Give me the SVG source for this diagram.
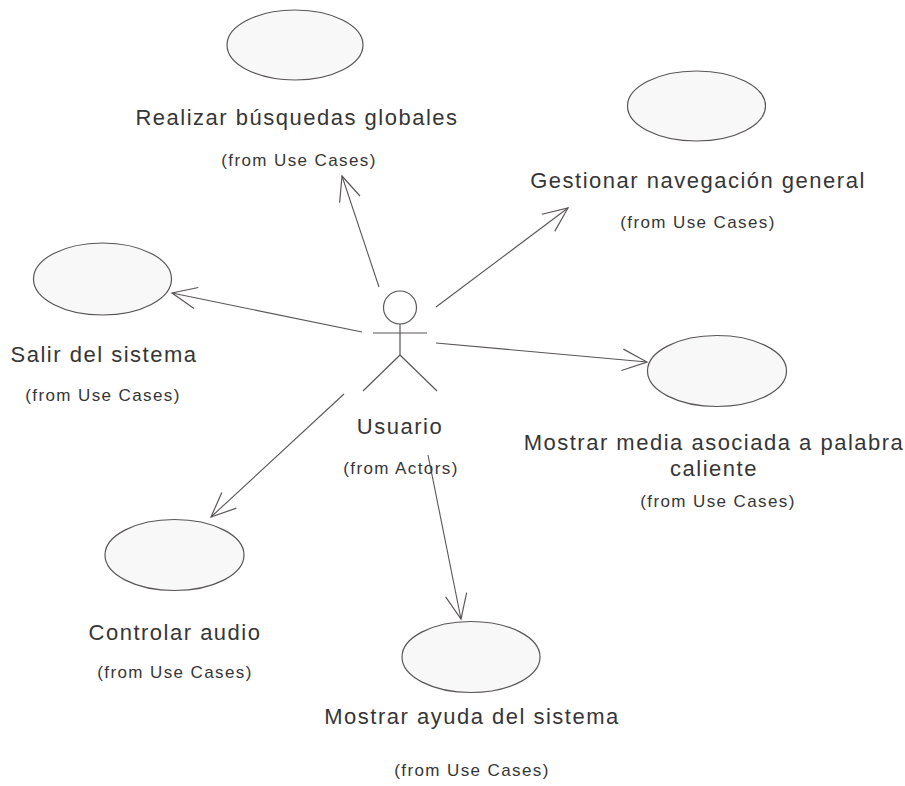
<svg xmlns="http://www.w3.org/2000/svg" width="905" height="786" viewBox="0 0 905 786">
  <style>
    .uc { fill: #f8f8f8; stroke: #5a5558; stroke-width: 1.2; }
    .actor { fill: none; stroke: #5a5558; stroke-width: 1.2; }
    .assoc { fill: none; stroke: #5a5558; stroke-width: 1.1; marker-end: url(#open); }
    .name { font-family: "Liberation Sans", Arial, sans-serif; font-size: 22px; letter-spacing: 1.5px; fill: #363636; text-anchor: middle; }
    .from { font-family: "Liberation Sans", Arial, sans-serif; font-size: 17px; letter-spacing: 1.4px; fill: #363636; text-anchor: middle; }
  </style>
  <defs>
    <marker id="open" markerUnits="userSpaceOnUse" markerWidth="30" markerHeight="30" viewBox="-26 -13 28 26" refX="0" refY="0" orient="auto">
      <path d="M -23,-10 L 0,0 L -23,10" fill="none" stroke="#5a5558" stroke-width="1.1"/>
    </marker>
  </defs>
  <rect width="905" height="786" fill="#ffffff"/>

  <!-- associations from the actor to each use case -->
  <g id="connectors">
    <line class="assoc" x1="379" y1="287" x2="342" y2="176"/>
    <line class="assoc" x1="436" y1="307" x2="568" y2="208"/>
    <line class="assoc" x1="362" y1="332" x2="172" y2="293"/>
    <line class="assoc" x1="436" y1="343" x2="647" y2="362"/>
    <line class="assoc" x1="344" y1="394" x2="211" y2="517"/>
    <line class="assoc" x1="428" y1="455" x2="461" y2="619"/>
  </g>

  <g id="usuario">
    <circle class="actor" cx="400" cy="307.5" r="16.5"/>
    <line class="actor" x1="400" y1="324" x2="400" y2="355"/>
    <line class="actor" x1="373" y1="333" x2="427" y2="333"/>
    <line class="actor" x1="400" y1="355" x2="363" y2="391"/>
    <line class="actor" x1="400" y1="355" x2="437" y2="391"/>
    <text class="name" x="400" y="434">Usuario</text>
    <text class="from" x="401" y="474">(from Actors)</text>
  </g>

  <g id="realizar-busquedas">
    <ellipse class="uc" cx="295" cy="45" rx="68" ry="35"/>
    <text class="name" x="297" y="125">Realizar búsquedas globales</text>
    <text class="from" x="299" y="166">(from Use Cases)</text>
  </g>

  <g id="gestionar-navegacion">
    <ellipse class="uc" cx="696.5" cy="106" rx="69" ry="35"/>
    <text class="name" x="698" y="188">Gestionar navegación general</text>
    <text class="from" x="698" y="228">(from Use Cases)</text>
  </g>

  <g id="salir-sistema">
    <ellipse class="uc" cx="102.5" cy="279" rx="69" ry="36"/>
    <text class="name" x="104" y="362">Salir del sistema</text>
    <text class="from" x="103" y="401">(from Use Cases)</text>
  </g>

  <g id="mostrar-media">
    <ellipse class="uc" cx="717" cy="371" rx="69.5" ry="35.5"/>
    <text class="name" x="714" y="450">Mostrar media asociada a palabra</text>
    <text class="name" x="714" y="476">caliente</text>
    <text class="from" x="718" y="507">(from Use Cases)</text>
  </g>

  <g id="controlar-audio">
    <ellipse class="uc" cx="174.5" cy="555" rx="69.5" ry="35.5"/>
    <text class="name" x="175" y="640">Controlar audio</text>
    <text class="from" x="175" y="678">(from Use Cases)</text>
  </g>

  <g id="mostrar-ayuda">
    <ellipse class="uc" cx="471" cy="657" rx="69" ry="35.5"/>
    <text class="name" x="472" y="724">Mostrar ayuda del sistema</text>
    <text class="from" x="472" y="776">(from Use Cases)</text>
  </g>
</svg>
